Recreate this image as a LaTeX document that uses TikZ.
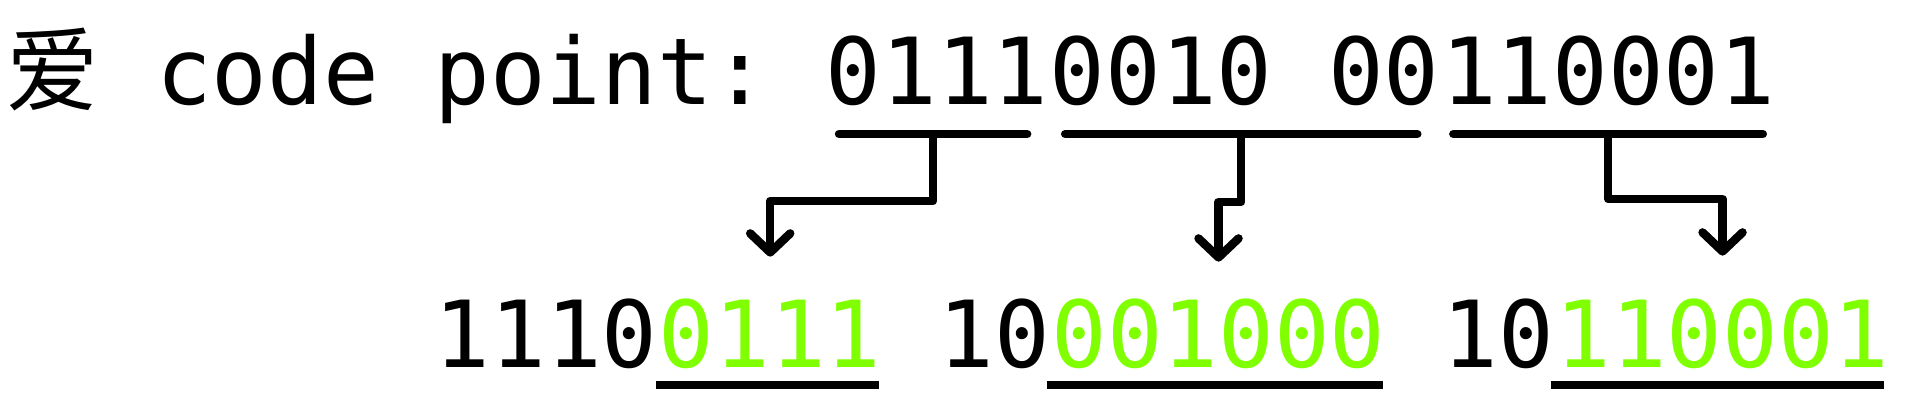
\documentclass[tikz,border=0pt]{standalone}
\usepackage{fontspec}
\setmonofont{DejaVu Sans Mono}
\newfontfamily\cjk{Noto Sans CJK SC}
\usetikzlibrary{positioning,calc,arrows.meta}
\definecolor{utfgreen}{HTML}{80FF00}
\newcommand{\bitgap}{0.557cm}

\begin{document}
\begin{tikzpicture}[
	x=0.01cm, y=-0.01cm,
	bits/.style={
		inner sep=0pt,
		font=\ttfamily\fontsize{26.3pt}{30pt}\selectfont
	},
	payload/.style={bits, text=utfgreen},
	bar/.style={line width=2.4pt},
	link/.style={
		line width=2.4pt,
		line join=round,
		-{Straight Barb[round, length=0.19cm, width=0.40cm]}
	}]

	\useasboundingbox (0,0) rectangle (1912,408);

	% code point
	\node[bits, anchor=base west] (cpA) at (825,104) {0111};
	\node[bits, base right=0pt of cpA] (cpB) {0010 00};
	\node[bits, base right=0pt of cpB] (cpC) {110001};
	\node[bits, base left=\bitgap of cpA] (label) {code point:};
	\node[bits, font=\cjk\fontsize{26.3pt}{30pt}\selectfont, base left=\bitgap of label] (ai) {爱};

	% utf-8 bytes
	\node[bits, anchor=base west] (pfxA) at (434,367) {1110};
	\node[payload, base right=0pt of pfxA] (utfA) {0111};
	\node[bits, base right=\bitgap of utfA] (pfxB) {10};
	\node[payload, base right=0pt of pfxB] (utfB) {001000};
	\node[bits, base right=\bitgap of utfB] (pfxC) {10};
	\node[payload, base right=0pt of pfxC] (utfC) {110001};

	\draw[bar, line cap=round] ($(cpA.base west)+(14,30)$) -- coordinate (srcA) ($(cpA.base east)+(-22,30)$);
	\draw[bar, line cap=round] ($(cpB.base west)+(16,30)$) -- coordinate (srcB) ($(cpB.base east)+(-23,30)$);
	\draw[bar, line cap=round] ($(cpC.base west)+(13,30)$) -- coordinate (srcC) ($(cpC.base east)+(-13,30)$);

	\draw[bar] ($(utfA.base west)+(-2,18)$) -- ($(utfA.base east)+(-3,18)$);
	\draw[bar] ($(utfB.base west)+(-4,18)$) -- ($(utfB.base east)+(-3,18)$);
	\draw[bar] ($(utfC.base west)+(-4,18)$) -- ($(utfC.base east)+(-6,18)$);

	\draw[link] (srcA) -- ++(0,67) -| ([yshift=0.41cm]utfA.north);
	\draw[link] (srcB) -- ++(0,68) -| ([yshift=0.36cm]utfB.north);
	\draw[link] (srcC) -- ++(0,65) -| ([yshift=0.42cm]utfC.north);
\end{tikzpicture}
\end{document}
